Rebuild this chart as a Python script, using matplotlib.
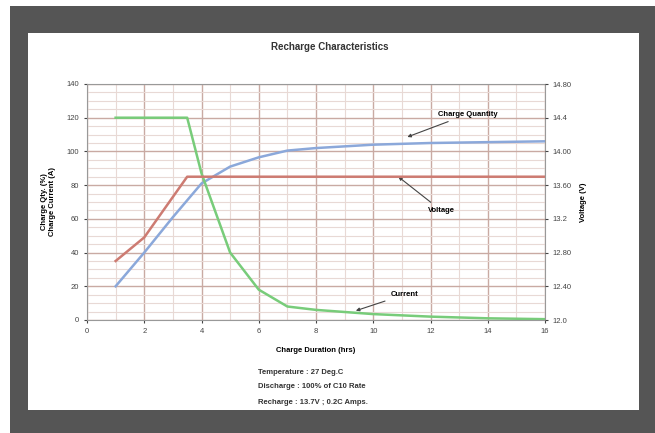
import numpy as np
import matplotlib
matplotlib.use("Agg")
import matplotlib.pyplot as plt
from matplotlib.patches import Rectangle

# values
hours_qty = [1, 2, 3, 4, 5, 6, 7, 8, 10, 12, 14, 16]
charge_qty = [20, 40, 61, 81, 91, 96.5, 100.5, 102, 104, 105, 105.5, 106]

hours_volt = [1, 2, 3.5, 6, 8, 10, 12, 14, 16]
voltage = [12.70, 12.98, 13.70, 13.70, 13.70, 13.70, 13.70, 13.70, 13.70]

hours_cur = [1, 2, 3, 3.5, 4, 5, 6, 7, 8, 10, 12, 14, 16]
current = [120, 120, 120, 120, 87, 40, 18, 8, 6, 3.5, 2, 1, 0.5]

left_ticks = [0, 20, 40, 60, 80, 100, 120, 140]
volt_ticks = [12.0, 12.4, 12.8, 13.2, 13.6, 14.0, 14.4, 14.8]
volt_labels = ["12.0", "12.40", "12.80", "13.2", "13.60", "14.00", "14.4", "14.80"]

notes = ["Temperature : 27 Deg.C",
         "Discharge : 100% of C10 Rate",
         "Recharge : 13.7V ; 0.2C Amps."]

plt.rcParams["font.family"] = ["Liberation Sans", "DejaVu Sans"]

fig = plt.figure(figsize=(6.55, 4.33), dpi=100)
fig.patch.set_facecolor("white")
# dark frame with white panel inside
fig.add_artist(Rectangle((10 / 655, 0), 645 / 655, 427 / 433, transform=fig.transFigure,
                         facecolor="#555555", edgecolor="none", zorder=-10))
fig.add_artist(Rectangle((28 / 655, 23 / 433), 611 / 655, 377 / 433, transform=fig.transFigure,
                         facecolor="white", edgecolor="none", zorder=-9))

ax = fig.add_axes([87 / 655, 113 / 433, 458 / 655, 236 / 433])
ax.set_facecolor("none")
ax.set_xlim(0, 16)
ax.set_ylim(0, 140)
ax.set_xticks(range(0, 17, 2))
ax.set_xticks(range(0, 17, 1), minor=True)
ax.set_yticks(left_ticks)
ax.set_yticks(np.arange(0, 141, 5), minor=True)
ax.grid(which="major", color="#c9aaa3", linewidth=1.0)
ax.grid(which="minor", color="#e8d9d5", linewidth=0.8)
ax.set_axisbelow(True)
ax.tick_params(labelsize=5.5, length=2, colors="#444444")
ax.tick_params(which="minor", length=0)
for s in ax.spines.values():
    s.set_color("#999999")
    s.set_linewidth(0.8)

ax.plot(hours_qty, charge_qty, color="#8ba8da", linewidth=1.8)
ax.plot(hours_cur, current, color="#78cc7a", linewidth=1.8)

ax2 = ax.twinx()
ax2.set_ylim(12.0, 14.8)
ax2.set_yticks(volt_ticks)
ax2.set_yticklabels(volt_labels)
ax2.tick_params(labelsize=5.5, length=2, colors="#444444")
for s in ax2.spines.values():
    s.set_visible(False)
ax2.plot(hours_volt, voltage, color="#cd7b72", linewidth=1.8)

ax.set_xlabel("Charge Duration (hrs)", fontsize=5.5, fontweight="bold", labelpad=9)
ax.set_ylabel("Charge Qty. (%)\nCharge Current (A)", fontsize=5.5, fontweight="bold", labelpad=8)
ax2.set_ylabel("Voltage (V)", fontsize=5.5, fontweight="bold", rotation=90, labelpad=6)

fig.text(330 / 655, 1 - 47 / 433, "Recharge Characteristics", fontsize=7,
         fontweight="bold", ha="center", va="center", color="#333333")

arrow = dict(arrowstyle="-|>", color="#444444", lw=0.8, mutation_scale=5)
ax.annotate("Charge Quantity", xy=(11.1, 108), xytext=(12.25, 122), fontsize=5.5,
            fontweight="bold", va="center", arrowprops=arrow)
ax.annotate("Voltage", xy=(10.8, 86), xytext=(11.9, 65), fontsize=5.5,
            fontweight="bold", va="center", arrowprops=arrow)
ax.annotate("Current", xy=(9.3, 5), xytext=(10.6, 15), fontsize=5.5,
            fontweight="bold", va="center", arrowprops=arrow)

for i, line in enumerate(notes):
    fig.text(258 / 655, 1 - (372 + 15 * i) / 433, line, fontsize=5.5,
             fontweight="bold", ha="left", va="center", color="#333333")

fig.savefig("out.png", dpi=100)
